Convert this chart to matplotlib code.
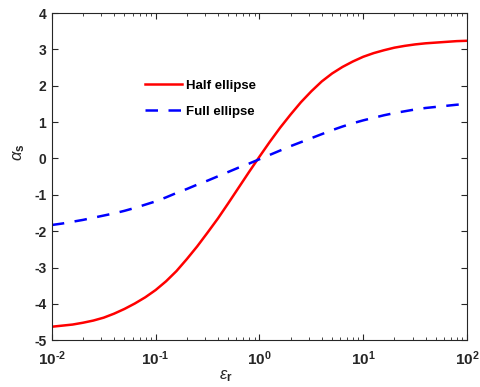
import numpy as np
import matplotlib
matplotlib.use('agg')
from matplotlib import pyplot

# log10(eps_r) sample positions and curve values
log_eps = [-2.0, -1.9, -1.8, -1.7, -1.6, -1.5, -1.4, -1.3, -1.2, -1.1, -1.0,
           -0.9, -0.8, -0.7, -0.6, -0.5, -0.4, -0.3, -0.2, -0.1, 0.0,
           0.1, 0.2, 0.3, 0.4, 0.5, 0.6, 0.7, 0.8, 0.9, 1.0,
           1.1, 1.2, 1.3, 1.4, 1.5, 1.6, 1.7, 1.8, 1.9, 2.0]
half_ellipse = [-4.63, -4.60, -4.57, -4.52, -4.46, -4.38, -4.27, -4.14, -3.99, -3.82, -3.62,
                -3.38, -3.10, -2.77, -2.42, -2.04, -1.65, -1.23, -0.80, -0.37, 0.05,
                0.46, 0.85, 1.21, 1.55, 1.85, 2.12, 2.34, 2.52, 2.67, 2.80,
                2.90, 2.98, 3.05, 3.10, 3.14, 3.17, 3.19, 3.21, 3.23, 3.24]
full_ellipse = [-1.83, -1.79, -1.74, -1.69, -1.63, -1.57, -1.51, -1.44, -1.36, -1.27, -1.18,
                -1.07, -0.95, -0.84, -0.72, -0.61, -0.49, -0.37, -0.25, -0.14, -0.02,
                0.10, 0.22, 0.34, 0.45, 0.56, 0.67, 0.78, 0.88, 0.97, 1.05,
                1.12, 1.19, 1.25, 1.30, 1.35, 1.39, 1.42, 1.45, 1.48, 1.50]
x_ticks = [1e-2, 1e-1, 1e0, 1e1, 1e2]
x_labels = [r'$\mathbf{10^{\text{-}2}}$', r'$\mathbf{10^{\text{-}1}}$', r'$\mathbf{10^{0}}$',
            r'$\mathbf{10^{1}}$', r'$\mathbf{10^{2}}$']
y_ticks = [-5, -4, -3, -2, -1, 0, 1, 2, 3, 4]

pyplot.rcParams['font.family'] = ['Liberation Sans', 'DejaVu Sans']
pyplot.rcParams['mathtext.fontset'] = 'custom'
pyplot.rcParams['mathtext.rm'] = 'Liberation Sans:bold'
pyplot.rcParams['mathtext.bf'] = 'Liberation Sans:bold'
pyplot.rcParams['mathtext.it'] = 'Liberation Sans:italic'

eps = 10 ** np.array(log_eps)

figura = pyplot.figure(figsize=(4.8, 3.87), dpi=100)
axes = figura.add_axes([0.108, 0.121, 0.865, 0.845])
axes.plot(eps, half_ellipse, color='red', linewidth=1.8, label='Half ellipse')
axes.plot(eps, full_ellipse, color='blue', linewidth=1.8, dashes=(5, 4.2), label='Full ellipse')

axes.set_xscale('log')
axes.set_xlim(1e-2, 1e2)
axes.set_ylim(-5, 4)
axes.set_xticks(x_ticks)
axes.set_xticklabels(x_labels, fontsize=11)
axes.set_yticks(y_ticks)
axes.set_yticklabels([str(v) for v in y_ticks], fontsize=10, fontweight='bold')

axes.tick_params(axis='both', which='both', direction='in', top=True, right=True,
                 colors='#262626', labelcolor='#262626')
axes.tick_params(which='major', length=4, width=0.8)
axes.tick_params(which='minor', length=2.5, width=0.6)
axes.tick_params(axis='x', pad=7)
axes.tick_params(axis='y', pad=4)
for s in axes.spines.values():
    s.set_color('#262626')
    s.set_linewidth(0.8)

axes.set_xlabel(r'$\epsilon_\mathbf{r}$', fontsize=12, color='#262626')
axes.xaxis.set_label_coords(0.42, -0.085)
axes.set_ylabel(r'$\alpha_\mathbf{s}$', fontsize=12, color='#262626')
axes.yaxis.set_label_coords(-0.06, 0.575)

axes.legend(loc='upper left', bbox_to_anchor=(0.195, 0.834), frameon=False,
            prop={'weight': 'bold', 'size': 9.5}, handlelength=2.8,
            handletextpad=0.3, labelspacing=1.05)

pyplot.savefig('out.png', dpi=100)
